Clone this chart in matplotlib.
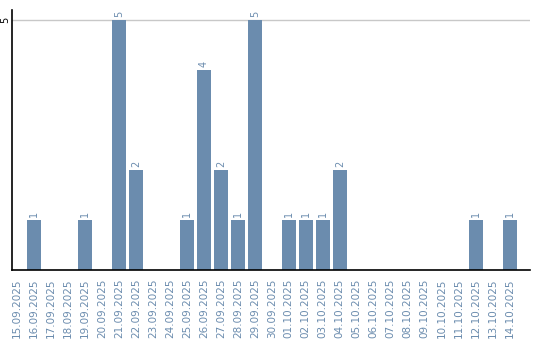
import matplotlib
matplotlib.use("Agg")
import matplotlib.pyplot as plt
import numpy as np

dates = ["15.09.2025", "16.09.2025", "17.09.2025", "18.09.2025", "19.09.2025",
         "20.09.2025", "21.09.2025", "22.09.2025", "23.09.2025", "24.09.2025",
         "25.09.2025", "26.09.2025", "27.09.2025", "28.09.2025", "29.09.2025",
         "30.09.2025", "01.10.2025", "02.10.2025", "03.10.2025", "04.10.2025",
         "05.10.2025", "06.10.2025", "07.10.2025", "08.10.2025", "09.10.2025",
         "10.10.2025", "11.10.2025", "12.10.2025", "13.10.2025", "14.10.2025"]
counts = [0, 1, 0, 0, 1, 0, 5, 2, 0, 0,
          1, 4, 2, 1, 5, 0, 1, 1, 1, 2,
          0, 0, 0, 0, 0, 0, 0, 1, 0, 1]

bar_color = "#6b8cae"

fig = plt.figure(figsize=(5.4, 3.4), dpi=100)
ax = fig.add_axes([12 / 540, 0.206, (530 - 12) / 540, 0.7646])

x = np.arange(len(dates))
ax.bar(x, counts, width=0.82, color=bar_color, zorder=2)
for xi, v in zip(x, counts):
    if v > 0:
        ax.text(xi, v + 0.06, str(v), rotation=90, ha="center", va="bottom",
                fontsize=7, color=bar_color)

ax.set_xlim(-0.3, 30.2)
ax.set_ylim(0, 5.2)
ax.set_yticks([5])
ax.set_yticklabels(["5"], rotation=90, va="center", fontsize=7)
ax.axhline(5, color="#c8c8c8", lw=1, zorder=1)
ax.set_xticks(x)
ax.set_xticklabels(dates, rotation=90, fontsize=7.5, color=bar_color)
ax.tick_params(axis="x", length=0, pad=6)
ax.tick_params(axis="y", length=0, pad=1)
for s in ["top", "right"]:
    ax.spines[s].set_visible(False)
ax.spines["left"].set_linewidth(1.2)
ax.spines["bottom"].set_linewidth(1.2)

fig.savefig("out.png", dpi=100)
